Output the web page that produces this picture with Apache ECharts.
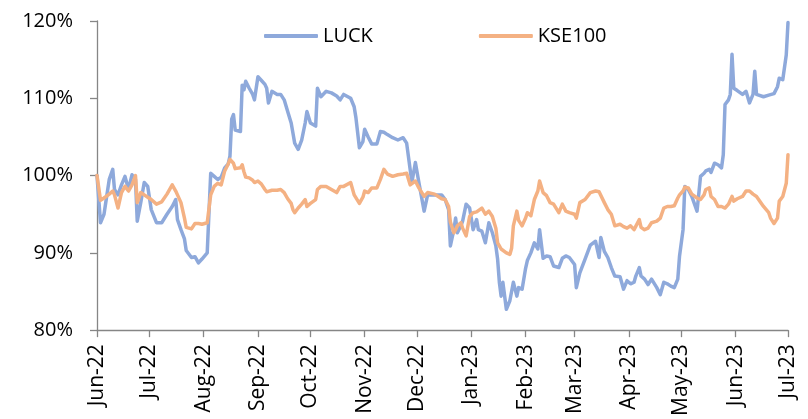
<!DOCTYPE html>
<html>
<head>
<meta charset="utf-8">
<script src="https://cdn.jsdelivr.net/npm/echarts@6/dist/echarts.min.js"></script>
<style>
  html, body { margin: 0; padding: 0; background: #fff; }
  #chart { width: 808px; height: 419px; }
</style>
</head>
<body>
<div id="chart"></div>
<script>
// month tick labels, from the first day of the axis to the last
const tickLabels = ['Jun-22', 'Jul-22', 'Aug-22', 'Sep-22', 'Oct-22', 'Nov-22', 'Dec-22',
  'Jan-23', 'Feb-23', 'Mar-23', 'Apr-23', 'May-23', 'Jun-23', 'Jul-23'];

const dates = [
  '2022-06-01', '2022-06-03', '2022-06-05', '2022-06-06', '2022-06-08', '2022-06-10', '2022-06-11', '2022-06-13',
  '2022-06-15', '2022-06-17', '2022-06-19', '2022-06-21', '2022-06-23', '2022-06-24', '2022-06-26', '2022-06-28', '2022-06-30',
  '2022-07-02', '2022-07-05', '2022-07-08', '2022-07-11', '2022-07-14', '2022-07-16', '2022-07-17', '2022-07-19',
  '2022-07-21', '2022-07-22', '2022-07-25', '2022-07-27', '2022-07-29', '2022-07-31',
  '2022-08-03', '2022-08-05', '2022-08-07', '2022-08-09', '2022-08-11', '2022-08-13', '2022-08-15', '2022-08-16',
  '2022-08-17', '2022-08-18', '2022-08-19', '2022-08-22', '2022-08-23', '2022-08-24', '2022-08-25', '2022-08-27',
  '2022-08-29', '2022-08-30',
  '2022-09-01', '2022-09-03', '2022-09-05', '2022-09-06', '2022-09-07', '2022-09-09', '2022-09-12', '2022-09-14',
  '2022-09-16', '2022-09-18', '2022-09-20', '2022-09-21', '2022-09-22', '2022-09-24', '2022-09-26', '2022-09-28', '2022-09-29',
  '2022-10-01', '2022-10-04', '2022-10-05', '2022-10-07', '2022-10-10', '2022-10-13', '2022-10-16', '2022-10-18',
  '2022-10-20', '2022-10-24', '2022-10-26', '2022-10-27', '2022-10-29', '2022-10-31',
  '2022-11-01', '2022-11-03', '2022-11-05', '2022-11-08', '2022-11-10', '2022-11-12', '2022-11-14', '2022-11-17',
  '2022-11-18', '2022-11-20', '2022-11-23', '2022-11-25', '2022-11-27', '2022-11-28', '2022-11-30',
  '2022-12-02', '2022-12-05', '2022-12-07', '2022-12-11', '2022-12-15', '2022-12-17', '2022-12-19', '2022-12-20',
  '2022-12-22', '2022-12-23', '2022-12-24', '2022-12-26', '2022-12-27', '2022-12-29', '2022-12-31',
  '2023-01-02', '2023-01-04', '2023-01-05', '2023-01-07', '2023-01-09', '2023-01-11', '2023-01-13', '2023-01-15',
  '2023-01-16', '2023-01-17', '2023-01-18', '2023-01-19', '2023-01-21', '2023-01-23', '2023-01-24', '2023-01-25',
  '2023-01-27', '2023-01-28', '2023-01-30',
  '2023-02-01', '2023-02-02', '2023-02-04', '2023-02-06', '2023-02-08', '2023-02-09', '2023-02-11', '2023-02-13',
  '2023-02-15', '2023-02-17', '2023-02-20', '2023-02-22', '2023-02-24', '2023-02-26',
  '2023-03-01', '2023-03-02', '2023-03-04', '2023-03-07', '2023-03-10', '2023-03-13', '2023-03-15', '2023-03-16',
  '2023-03-18', '2023-03-20', '2023-03-22', '2023-03-24', '2023-03-27', '2023-03-29', '2023-03-31',
  '2023-04-02', '2023-04-04', '2023-04-05', '2023-04-07', '2023-04-08', '2023-04-10', '2023-04-12', '2023-04-14',
  '2023-04-17', '2023-04-19', '2023-04-21', '2023-04-23', '2023-04-25', '2023-04-27', '2023-04-29', '2023-04-30',
  '2023-05-02', '2023-05-03', '2023-05-05', '2023-05-07', '2023-05-10', '2023-05-12', '2023-05-14', '2023-05-15',
  '2023-05-17', '2023-05-18', '2023-05-20', '2023-05-22', '2023-05-24', '2023-05-25', '2023-05-26', '2023-05-28',
  '2023-05-29', '2023-05-30', '2023-05-31',
  '2023-06-02', '2023-06-05', '2023-06-07', '2023-06-09', '2023-06-11', '2023-06-12', '2023-06-13', '2023-06-17',
  '2023-06-20', '2023-06-21', '2023-06-23', '2023-06-25', '2023-06-26', '2023-06-28', '2023-06-30', '2023-07-01'
];

const luck = [
  100.0, 93.9, 95.0, 96.5, 99.5, 100.8, 98.2, 97.5,
  98.8, 99.9, 98.2, 100.1, 99.5, 94.1, 96.5, 99.1, 98.6,
  95.6, 93.9, 93.9, 95.0, 96.0, 96.9, 94.3, 93.0,
  91.8, 90.3, 89.4, 89.5, 88.7, 89.2,
  90.0, 100.3, 99.9, 99.5, 99.8, 101.0, 101.5, 102.5,
  107.3, 107.9, 105.9, 105.7, 111.7, 111.1, 112.2, 111.3,
  110.5, 109.8,
  112.8, 112.3, 111.8, 111.3, 109.4, 110.9, 110.5, 110.5,
  109.8, 108.3, 106.8, 105.5, 104.2, 103.4, 104.6, 106.8, 108.3,
  106.8, 106.4, 111.3, 110.2, 110.9, 110.7, 110.3, 109.8,
  110.5, 110.0, 108.9, 107.5, 103.6, 104.4,
  106.0, 105.0, 104.1, 104.1, 105.7, 105.6, 105.3, 104.9,
  105.1, 104.6, 104.9, 104.2, 100.8, 99.1, 101.7,
  99.1, 95.4, 97.5, 97.5, 97.5, 96.9, 95.6, 90.9,
  93.0, 94.5, 92.6, 93.5, 94.1, 96.3, 95.8,
  93.0, 94.3, 93.0, 92.8, 91.3, 93.9, 92.6, 90.9,
  89.2, 86.2, 84.4, 86.2, 82.7, 83.8, 85.0, 86.2,
  84.4, 85.5, 85.3,
  88.0, 89.0, 90.0, 91.3, 90.5, 93.0, 89.3, 89.6,
  89.5, 88.3, 88.1, 89.3, 89.6, 89.4,
  88.5, 85.5, 87.4, 89.2, 91.0, 91.5, 89.4, 92.0,
  90.2, 89.4, 88.1, 87.0, 86.9, 85.3, 86.4,
  86.0, 86.2, 87.0, 88.1, 87.0, 86.6, 85.9, 86.6,
  85.5, 84.6, 86.2, 86.0, 85.7, 85.5, 86.6, 89.6,
  93.0, 98.6, 98.2, 97.3, 95.4, 99.9, 100.3, 100.6,
  100.8, 100.4, 101.6, 101.4, 101.0, 102.7, 109.2, 109.8,
  110.5, 115.7, 111.3,
  111.0, 110.5, 110.9, 109.4, 110.5, 113.5, 110.5, 110.2,
  110.4, 110.5, 110.6, 111.5, 112.6, 112.4, 115.6, 119.8
];

const kse100 = [
  100.0, 96.8, 97.1, 97.3, 97.6, 98.0, 97.5, 95.8,
  97.8, 98.6, 98.0, 98.8, 100.0, 96.5, 97.8, 97.5, 97.2,
  96.9, 96.3, 96.6, 97.6, 98.8, 98.0, 97.5, 96.5,
  94.5, 93.3, 93.1, 93.8, 93.8, 93.7,
  93.9, 97.5, 98.6, 99.0, 98.8, 100.6, 101.5, 102.1,
  101.9, 101.6, 100.9, 101.0, 101.4, 100.5, 99.8, 99.7,
  99.4, 99.1,
  99.3, 98.9, 98.2, 97.9, 97.8, 98.1, 98.1, 98.2,
  97.8, 97.0, 96.4, 95.6, 95.2, 95.8, 96.3, 96.9, 96.0,
  96.4, 96.9, 98.2, 98.6, 98.6, 98.2, 97.8, 98.6,
  98.6, 99.1, 97.5, 97.3, 96.4, 97.2,
  98.0, 97.8, 98.4, 98.4, 99.5, 100.8, 100.2, 99.9,
  100.0, 100.1, 100.2, 100.3, 98.8, 99.0, 99.3,
  98.4, 97.3, 97.8, 97.6, 97.0, 96.9, 96.0, 94.0,
  92.6, 93.0, 93.5, 93.9, 93.2, 92.2, 94.7,
  95.2, 95.3, 95.2, 95.8, 95.0, 95.4, 94.7, 93.2,
  91.3, 90.9, 90.5, 90.4, 90.0, 89.8, 90.6, 93.5,
  95.4, 94.2, 93.5,
  94.5, 95.2, 94.8, 96.9, 98.0, 99.3, 97.8, 97.4,
  96.5, 96.3, 95.2, 96.3, 95.4, 95.2,
  95.0, 94.5, 96.5, 96.9, 97.8, 98.0, 97.9, 97.8,
  96.5, 95.6, 95.0, 93.5, 93.7, 93.4, 93.2,
  93.5, 93.0, 92.8, 94.3, 93.3, 93.0, 93.2, 93.9,
  94.1, 94.5, 95.8, 96.0, 96.0, 96.1, 97.1, 97.5,
  98.0, 98.5, 98.4, 97.6, 97.1, 96.9, 97.5, 98.2,
  98.4, 97.3, 96.9, 96.0, 96.0, 95.9, 95.8, 96.3,
  96.8, 97.3, 96.7,
  97.0, 97.3, 98.0, 98.0, 97.6, 97.5, 97.3, 96.0,
  95.2, 94.5, 93.8, 94.5, 96.7, 97.3, 99.0, 102.7
];

// one category per calendar day, so months get their true widths
function pad(n) { return n < 10 ? '0' + n : '' + n; }
const days = [];
for (let t = Date.UTC(2022, 5, 1); t <= Date.UTC(2023, 6, 1); t += 86400000) {
  const d = new Date(t);
  days.push(d.getUTCFullYear() + '-' + pad(d.getUTCMonth() + 1) + '-' + pad(d.getUTCDate()));
}
const isMonthStart = (i, v) => v.slice(8) === '01';
const labelOf = {};
days.filter(d => d.slice(8) === '01').forEach((d, k) => { labelOf[d] = tickLabels[k]; });

function toSeries(vals) {
  const byDate = {};
  dates.forEach((d, i) => { byDate[d] = vals[i]; });
  return days.map(d => (d in byDate ? byDate[d] : null));
}

const axisColor = '#868686';
const font = 'Open Sans';

const chart = echarts.init(document.getElementById('chart'), null, {renderer: 'canvas'});
chart.setOption({
  animation: false,
  backgroundColor: '#fff',
  textStyle: {fontFamily: font},
  legend: {
    data: ['LUCK', 'KSE100'],
    left: 259,
    top: 21,
    icon: 'roundRect',
    itemWidth: 54,
    itemHeight: 4,
    itemGap: 106,
    textStyle: {fontFamily: font, fontSize: 20, color: '#000'}
  },
  grid: {left: 97, right: 20, top: 21, bottom: 88},
  xAxis: {
    type: 'category',
    data: days,
    boundaryGap: false,
    axisLine: {lineStyle: {color: axisColor, width: 1.3}},
    axisTick: {show: true, interval: isMonthStart, length: 7, lineStyle: {color: axisColor, width: 1.3}},
    axisLabel: {
      interval: isMonthStart,
      rotate: 90,
      margin: 14,
      fontFamily: font,
      fontSize: 21,
      color: '#000',
      formatter: v => labelOf[v] || ''
    },
    splitLine: {show: false}
  },
  yAxis: {
    type: 'value',
    min: 80,
    max: 120,
    interval: 10,
    axisLine: {show: true, lineStyle: {color: axisColor, width: 1.3}},
    axisTick: {show: true, length: 7, lineStyle: {color: axisColor, width: 1.3}},
    axisLabel: {margin: 24, fontFamily: font, fontSize: 20, color: '#000', formatter: '{value}%'},
    splitLine: {show: false}
  },
  series: [
    {
      name: 'LUCK',
      type: 'line',
      data: toSeries(luck),
      connectNulls: true,
      showSymbol: false,
      symbol: 'none',
      color: '#8EA9DB',
      lineStyle: {width: 3.5, color: '#8EA9DB', join: 'round', cap: 'round'}
    },
    {
      name: 'KSE100',
      type: 'line',
      data: toSeries(kse100),
      connectNulls: true,
      showSymbol: false,
      symbol: 'none',
      color: '#F4B183',
      lineStyle: {width: 3.5, color: '#F4B183', join: 'round', cap: 'round'}
    }
  ]
});
</script>
</body>
</html>
